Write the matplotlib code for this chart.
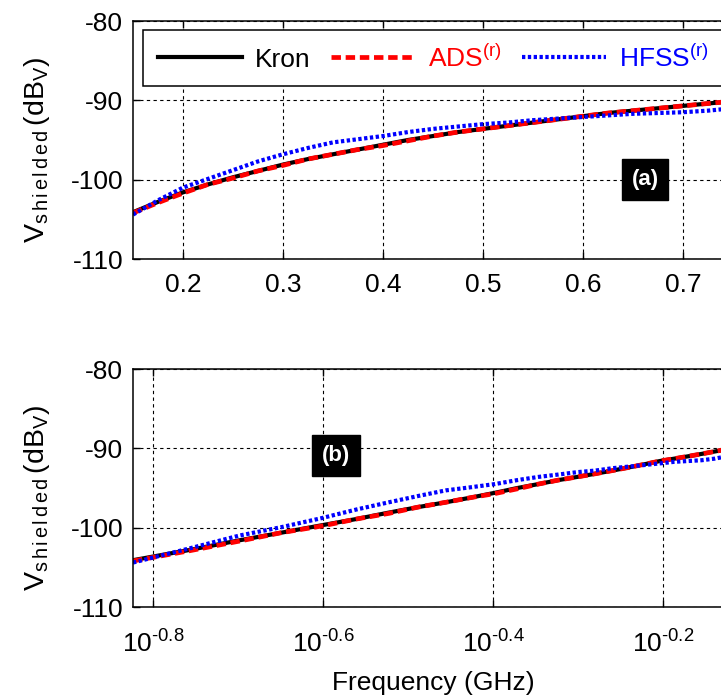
import numpy as np
import matplotlib
matplotlib.use('Agg')
import matplotlib.pyplot as plt
from matplotlib.ticker import FixedLocator, NullLocator
from matplotlib.transforms import blended_transform_factory

# frequency (GHz) and shielded voltage (dBV)
freq = [0.15, 0.175, 0.2, 0.225, 0.25, 0.275, 0.3, 0.325, 0.35, 0.375, 0.4,
        0.425, 0.45, 0.475, 0.5, 0.525, 0.55, 0.575, 0.6, 0.625, 0.65,
        0.675, 0.7, 0.725, 0.75, 0.775, 0.8]
kron = [-104.1, -102.8, -101.6, -100.6, -99.7, -98.9, -98.1, -97.4, -96.8,
        -96.2, -95.6, -95.0, -94.5, -94.0, -93.6, -93.2, -92.8, -92.4,
        -92.0, -91.6, -91.3, -91.0, -90.7, -90.4, -90.1, -89.8, -89.5]
ads = [-104.2, -102.9, -101.7, -100.6, -99.8, -98.9, -98.2, -97.4, -96.8,
       -96.2, -95.7, -95.1, -94.5, -94.0, -93.6, -93.2, -92.8, -92.4,
       -92.0, -91.6, -91.3, -91.0, -90.7, -90.4, -90.1, -89.8, -89.5]
hfss = [-104.4, -102.6, -101.0, -99.9, -98.8, -97.7, -96.8, -96.0, -95.3,
        -94.9, -94.5, -94.0, -93.6, -93.3, -93.0, -92.8, -92.5, -92.3,
        -92.1, -91.9, -91.7, -91.6, -91.5, -91.3, -91.0, -90.9, -90.8]

lin_ticks = [0.2, 0.3, 0.4, 0.5, 0.6, 0.7]
log_exps = [-0.8, -0.6, -0.4, -0.2]
y_ticks = [-110, -100, -90, -80]

plt.rcParams['font.family'] = 'Liberation Sans'
plt.rcParams['mathtext.fontset'] = 'custom'
plt.rcParams['mathtext.rm'] = 'Liberation Sans'
plt.rcParams['mathtext.it'] = 'Liberation Sans:italic'
plt.rcParams['mathtext.bf'] = 'Liberation Sans:bold'
plt.rcParams['axes.unicode_minus'] = False

W, H = 721, 699
fig = plt.figure(figsize=(W / 100, H / 100), dpi=100)

ax1 = fig.add_axes([133 / W, 1 - 259 / H, 650 / W, 238 / H])
ax2 = fig.add_axes([133 / W, 1 - 607 / H, 618 / W, 238 / H])

FS = 19
ylab = r'$\mathrm{V_{s\,h\,i\,e\,l\,d\,e\,d}\,(dB_V)}$'

for ax in (ax1, ax2):
    ax.plot(freq, kron, color='black', lw=3, label='Kron')
    ax.plot(freq, ads, color='red', lw=3.4, ls=(0, (2, 1)),
            label=r'ADS$^{\mathrm{(r)}}$')
    ax.plot(freq, hfss, color='blue', lw=3, ls=(0, (0.8, 0.6)),
            label=r'HFSS$^{\mathrm{(r)}}$')
    ax.set_ylim(-110, -80)
    ax.set_yticks(y_ticks)
    ax.grid(True, color='black', lw=0.8, ls=(0, (3, 3)))
    ax.tick_params(direction='in', top=True, right=True, length=5,
                   width=1, labelsize=FS, pad=7)
    for s in ax.spines.values():
        s.set_linewidth(1.1)
    ax.set_ylabel(ylab, fontsize=20.5)
    ax.yaxis.set_label_coords(
        52 / W, 0.46,
        transform=blended_transform_factory(fig.transFigure, ax.transAxes))

ax1.set_xlim(0.15, 0.8)
ax1.set_xticks(lin_ticks)
ax1.set_xticklabels(['%.1f' % t for t in lin_ticks])
ax1.tick_params(axis='x', pad=10)

ax2.set_xscale('log')
ax2.set_xlim(0.15, 0.8)
ax2.xaxis.set_major_locator(FixedLocator([10 ** e for e in log_exps]))
ax2.xaxis.set_minor_locator(NullLocator())
ax2.set_xticklabels([r'$10^{\text{-}%.1f}$' % abs(e) for e in log_exps])
ax2.tick_params(axis='x', pad=17)
ax2.set_xlabel('Frequency (GHz)', fontsize=FS)
ax2.xaxis.set_label_coords(433 / W, 1 - 671 / H, transform=fig.transFigure)

leg = ax1.legend(loc='upper left', bbox_to_anchor=(10 / 650, 1 - 9 / 238),
                 borderaxespad=0, ncol=3, fontsize=FS, frameon=True,
                 fancybox=False, framealpha=1, edgecolor='black',
                 handlelength=3.2, handletextpad=0.5, columnspacing=0.75,
                 borderpad=0.55)
leg.get_frame().set_linewidth(1.1)
for t, c in zip(leg.get_texts(), ['black', 'red', 'blue']):
    t.set_color(c)

box = dict(facecolor='black', edgecolor='black', pad=7)
ax1.text(0.662, -100, '(a)', color='white', fontsize=16, weight='bold',
         ha='center', va='center', bbox=box, zorder=5)
ax2.text(0.26, -90.9, '(b)', color='white', fontsize=16, weight='bold',
         ha='center', va='center', bbox=box, zorder=5)

plt.savefig('out.png', dpi=100)
